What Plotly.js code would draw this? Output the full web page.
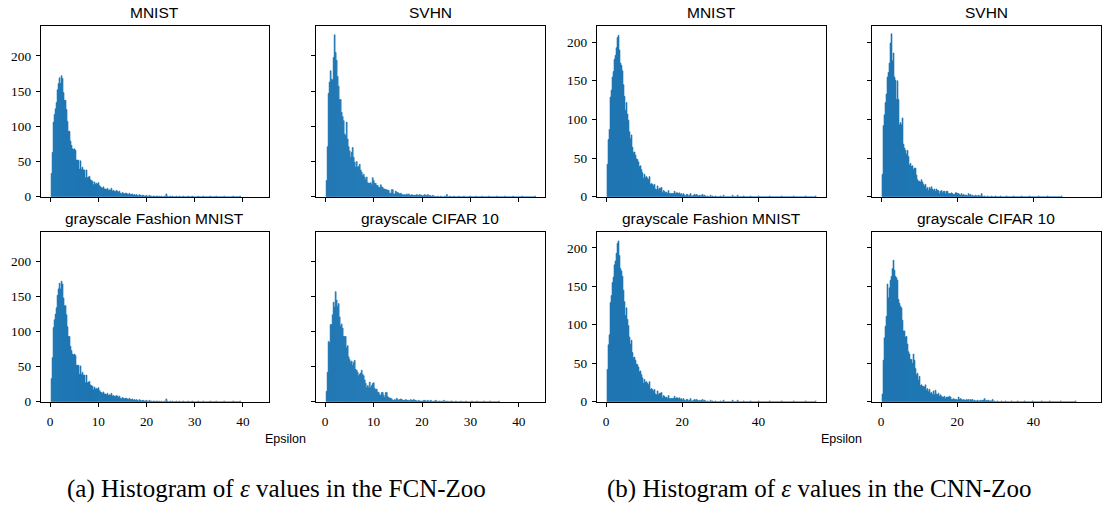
<!DOCTYPE html>
<html><head><meta charset="utf-8">
<script src="https://cdn.plot.ly/plotly-3.0.1.min.js"></script>
<style>html,body{margin:0;padding:0;background:#fff}</style>
</head><body><div id="chart" style="width:1104px;height:505px"></div>
<script>
// ---------- data (histogram bin counts) ----------
const panelTitles = ["MNIST", "SVHN", "grayscale Fashion MNIST", "grayscale CIFAR 10"];
const captions = ["(a) Histogram of <i>ε</i> values in the FCN-Zoo", "(b) Histogram of <i>ε</i> values in the CNN-Zoo"];
const xLabel = "Epsilon";
const fcnBinStart = 0.2, fcnBinWidth = 0.207;
const cnnBinStart = 0.26, cnnBinWidth = 0.2625;
const fcnXTicks = [0, 10, 20, 30, 40];
const cnnXTicks = [0, 20, 40];
const yTicks = [0, 50, 100, 150, 200];

const fcnMnist = [33,63,106,117,125,134,152,161,169,161,172,168,148,137,137,124,107,93,93,79,73,68,67,68,66,52,52,52,39,51,39,42,38,38,27,38,27,28,29,24,23,22,17,21,18,19,18,20,16,
 14,13,12,14,11,11,10,12,9,10,9,12,8,9,8,7,9,8,6,8,5,4,6,5,4,5,5,4,3,5,3,3,4,2,3,2,3,2,1,3,2,1,2,2,1,1,2,1,0,2,1,1];
const fcnMnistTail = [0,1,1,0,1,1,0,1,0,1, 0,0,1,0,4,1,0,0,1,0, 1,0,0,0,1,0,0,1,0,0, 0,1,0,0,0,0,1,0,0,0, 1,0,0,0,0,0,1,0,0,0,
 0,1,0,0,0,0,0,0,1,0, 0,0,0,0,1,0,0,0,0,0, 0,0,1,0,0,0,0,0,0,0, 0,1,0,0,0,0,0,0,1];
const fcnSvhn = [23,71,147,163,179,167,166,198,230,205,194,171,157,138,138,120,114,108,89,87,106,82,71,65,56,63,70,56,49,42,
 50,42,43,46,38,35,30,32,28,24,28,20,19,19,20,17,27,23,19,19,16,16,13,13,17,14,13,11,11,10,10,9,9,5,5,10,10,4,4,8,
 6,6,5,4,5,3,3,2,3,2,4,2,4,2,2,3,2,2,2,2,3,2,2,3,2,2,1,2,3,1,2,3];
const fcnSvhnTail = [1,2,1,1,2,0,1,0,0,1, 0,0,1,0,0,0,1,0,3,0, 0,1,0,0,0,1,0,0,0,0, 1,0,0,0,0,1,0,0,0,0, 0,1,0,0,0,0,0,1,0,0,
 0,0,0,1,0,0,0,0,0,0, 1,0,0,0,0,0,0,0,1,0, 0,0,0,0,0,0,1,0,0,0, 0,0,0,0,1,0,0,0,0,0, 0,0,0,1,0,0,0,0,0,0, 0,0,0,0,0,0,1];
const fcnFashion = fcnMnist;       // identical histogram in the reference
const fcnFashionTail = fcnMnistTail;
const fcnCifar = [15,42,86,84,110,110,124,142,135,157,145,136,140,121,108,111,105,93,93,93,77,80,64,60,56,58,52,56,59,46,
 45,42,37,39,41,45,39,37,31,26,20,23,20,28,20,23,26,27,19,17,18,14,13,10,9,13,13,9,6,13,13,7,6,5,5,4,2,2,3,2,
 5,3,2,3,4,3,2,2,2,3,2,2,2,1,3,2,2,3,2,2,1,1,2,1,1,1,1,2,2,1,1];
const fcnCifarTail = [2,1,1,2,1,0,1,1,2,1, 0,1,1,0,1,0,2,0,1,0, 1,0,0,1,1,0,0,0,1,0, 0,0,0,1,0,0,0,0,1,0, 0,0,0,0,1,0,0,0,0,1,
 0,0,0,0,0,0,1,0,0,0, 0,0,1,0,0,0,0,0,0,0, 0,1];

const cnnMnist = [42,74,87,129,138,155,162,178,183,193,206,209,190,173,170,163,145,130,112,122,107,99,84,75,80,64,57,58,54,49,
 48,45,39,40,35,31,24,29,25,26,24,22,26,16,17,16,14,16,10,9,14,9,11,11,12,5,8,7,5,6,4,8,4,4,4,4,4,7,4,5,
 5,4,5,3,4,2,4,2,1,3,3,1,2,4,1,1,2,3,2,3,2,1,2,1,2,3,1,2,1];
const cnnMnistTail = [0,1,0,0,2,0,1,0,0,1, 0,0,0,0,1,0,0,2,0,0, 0,0,0,0,0,0,2,0,0,0, 0,2,0,0,0,0,0,1,0,0, 0,0,0,0,1,0,0,0,0,0,
 0,0,1,0,0,0,0,0,0,0, 0,0,0,1,0,0,0,0,0,0, 0,0,0,0,0,1,0,0,0,0, 0,0,0,0,0,0,0,1,0,0, 0,0,0,0,0,0,0,0,0,1, 0,0,0,0,0,0,0,0,0,1];
const cnnSvhn = [29,92,106,122,133,155,161,173,199,211,176,186,155,151,126,150,126,93,96,93,102,68,63,60,55,60,52,41,43,39,
 40,35,37,37,28,22,20,20,19,22,19,16,14,16,10,12,8,12,10,13,10,8,10,7,10,8,8,4,7,8,5,7,7,4,7,7,4,4,4,5,
 4,3,3,5,5,4,4,3,2,4,2,3,2,2,2,1,4,2,3,1,2,1,1,2,1,1,2,1,1,4,1];
const cnnSvhnTail = [0,1,0,0,1,0,0,0,1,0, 0,0,1,0,0,0,0,1,0,0, 0,0,0,1,0,0,0,0,0,0, 1,0,0,0,0,0,0,0,1,0, 0,0,0,0,0,0,1,0,0,0,
 0,0,0,0,0,1,0,0,0,0, 0,0,0,0,1,0,0,0,0,0, 0,0,0,0,0,0,0,0,1];
const cnnFashion = cnnMnist;       // identical histogram in the reference
const cnnFashionTail = cnnMnistTail;
const cnnCifar = [10,54,83,98,111,153,135,148,158,163,173,184,171,163,161,158,133,128,124,122,106,92,92,84,85,75,65,62,55,55,
 50,62,54,43,35,37,28,33,21,22,20,20,19,22,15,17,13,16,11,12,9,14,9,15,10,9,11,7,9,7,6,6,7,4,6,6,6,7,6,3,
 3,4,3,3,3,2,6,3,4,3,2,3,2,2,3,2,3,1,3,2,3,1,2,1,1,2,1,1,2,1,2,2,4,1,2,1,2,1,1,1,3];
const cnnCifarTail = [0,1,0,0,1,0,0,0,1,0, 0,0,1,0,0,0,0,0,1,0, 0,0,0,0,1,0,0,0,0,0, 0,1,0,0,0,0,0,0,0,1, 0,0,0,0,0,0,0,0,1,0,
 0,0,0,0,0,0,1,0,0,0, 0,0,0,0,0,0,0,1,0,0, 0,0,0,0,0,0,0,0,0,0, 0,0,1];

// ---------- layout geometry ----------
const W = 1104, H = 505;
const px = (a, b) => [a / W, b / W];
const py = (top, bottom) => [1 - bottom / H, 1 - top / H];
const colDomains = [px(40.7, 269), px(315.7, 545), px(596.7, 826), px(871.7, 1101)];
const rowDomains = [py(26, 196.7), py(231.7, 401.7)];

const panels = [
  {counts: fcnMnist.concat(fcnMnistTail),     start: fcnBinStart, w: fcnBinWidth, col: 0, row: 0, title: panelTitles[0], fig: 0},
  {counts: fcnSvhn.concat(fcnSvhnTail),       start: fcnBinStart, w: fcnBinWidth, col: 1, row: 0, title: panelTitles[1], fig: 0},
  {counts: fcnFashion.concat(fcnFashionTail), start: fcnBinStart, w: fcnBinWidth, col: 0, row: 1, title: panelTitles[2], fig: 0},
  {counts: fcnCifar.concat(fcnCifarTail),     start: fcnBinStart, w: fcnBinWidth, col: 1, row: 1, title: panelTitles[3], fig: 0},
  {counts: cnnMnist.concat(cnnMnistTail),     start: cnnBinStart, w: cnnBinWidth, col: 2, row: 0, title: panelTitles[0], fig: 1},
  {counts: cnnSvhn.concat(cnnSvhnTail),       start: cnnBinStart, w: cnnBinWidth, col: 3, row: 0, title: panelTitles[1], fig: 1},
  {counts: cnnFashion.concat(cnnFashionTail), start: cnnBinStart, w: cnnBinWidth, col: 2, row: 1, title: panelTitles[2], fig: 1},
  {counts: cnnCifar.concat(cnnCifarTail),     start: cnnBinStart, w: cnnBinWidth, col: 3, row: 1, title: panelTitles[3], fig: 1},
];
const xRanges = [[-1.95, 45.4], [-2.44, 57.7]];
const yRanges = [[0, 242.6], [0, 221]];

const tickFont = {family: "Liberation Serif, serif", size: 13.3, color: "#000"};
const sansFont = "Liberation Sans, Arial, sans-serif";
const barColor = "#1f77b4";

const data = [];
const layout = {
  width: W, height: H,
  margin: {l: 0, r: 0, t: 0, b: 0},
  paper_bgcolor: "#fff", plot_bgcolor: "#fff",
  showlegend: false, bargap: 0,
  annotations: [], font: {family: sansFont}
};

panels.forEach((p, k) => {
  const n = k + 1;
  const xa = "x" + (n === 1 ? "" : n), ya = "y" + (n === 1 ? "" : n);
  const xs = p.counts.map((_, i) => p.start + (i + 0.5) * p.w);
  data.push({
    type: "bar", x: xs, y: p.counts, width: p.w,
    xaxis: xa, yaxis: ya,
    marker: {color: barColor, line: {width: 0.6, color: barColor}},
    hoverinfo: "skip"
  });
  const common = {
    showline: true, mirror: true, linecolor: "#000", linewidth: 1,
    ticks: "outside", ticklen: 4, tickwidth: 1, tickcolor: "#000",
    showgrid: false, zeroline: false, fixedrange: true,
    tickfont: tickFont
  };
  layout["xaxis" + (n === 1 ? "" : n)] = Object.assign({}, common, {
    domain: colDomains[p.col], anchor: ya, range: xRanges[p.fig],
    tickmode: "array", tickvals: p.fig === 0 ? fcnXTicks : cnnXTicks,
    showticklabels: p.row === 1, ticklabelstandoff: 3
  });
  layout["yaxis" + (n === 1 ? "" : n)] = Object.assign({}, common, {
    domain: rowDomains[p.row], anchor: xa, range: yRanges[p.fig],
    tickmode: "array", tickvals: yTicks,
    showticklabels: p.col % 2 === 0, ticklabelstandoff: 2
  });
  const d = colDomains[p.col];
  layout.annotations.push({
    text: p.title, xref: "paper", yref: "paper",
    x: (d[0] + d[1]) / 2, y: 1 - (p.row === 0 ? 12.5 : 218.5) / H,
    xanchor: "center", yanchor: "middle", showarrow: false,
    font: {family: sansFont, size: 15.5, color: "#000"}
  });
});

[285, 841].forEach(cx => layout.annotations.push({
  text: xLabel, xref: "paper", yref: "paper", x: cx / W, y: 1 - 439 / H,
  xanchor: "center", yanchor: "middle", showarrow: false,
  font: {family: sansFont, size: 12.5, color: "#000"}
}));
[[276.5, captions[0]], [819, captions[1]]].forEach(([cx, t]) => layout.annotations.push({
  text: t, xref: "paper", yref: "paper", x: cx / W, y: 1 - 489 / H,
  xanchor: "center", yanchor: "middle", showarrow: false,
  font: {family: "Liberation Serif, Times New Roman, serif", size: 25, color: "#000"}
}));

Plotly.newPlot("chart", data, layout, {staticPlot: true, displayModeBar: false});
</script></body></html>
